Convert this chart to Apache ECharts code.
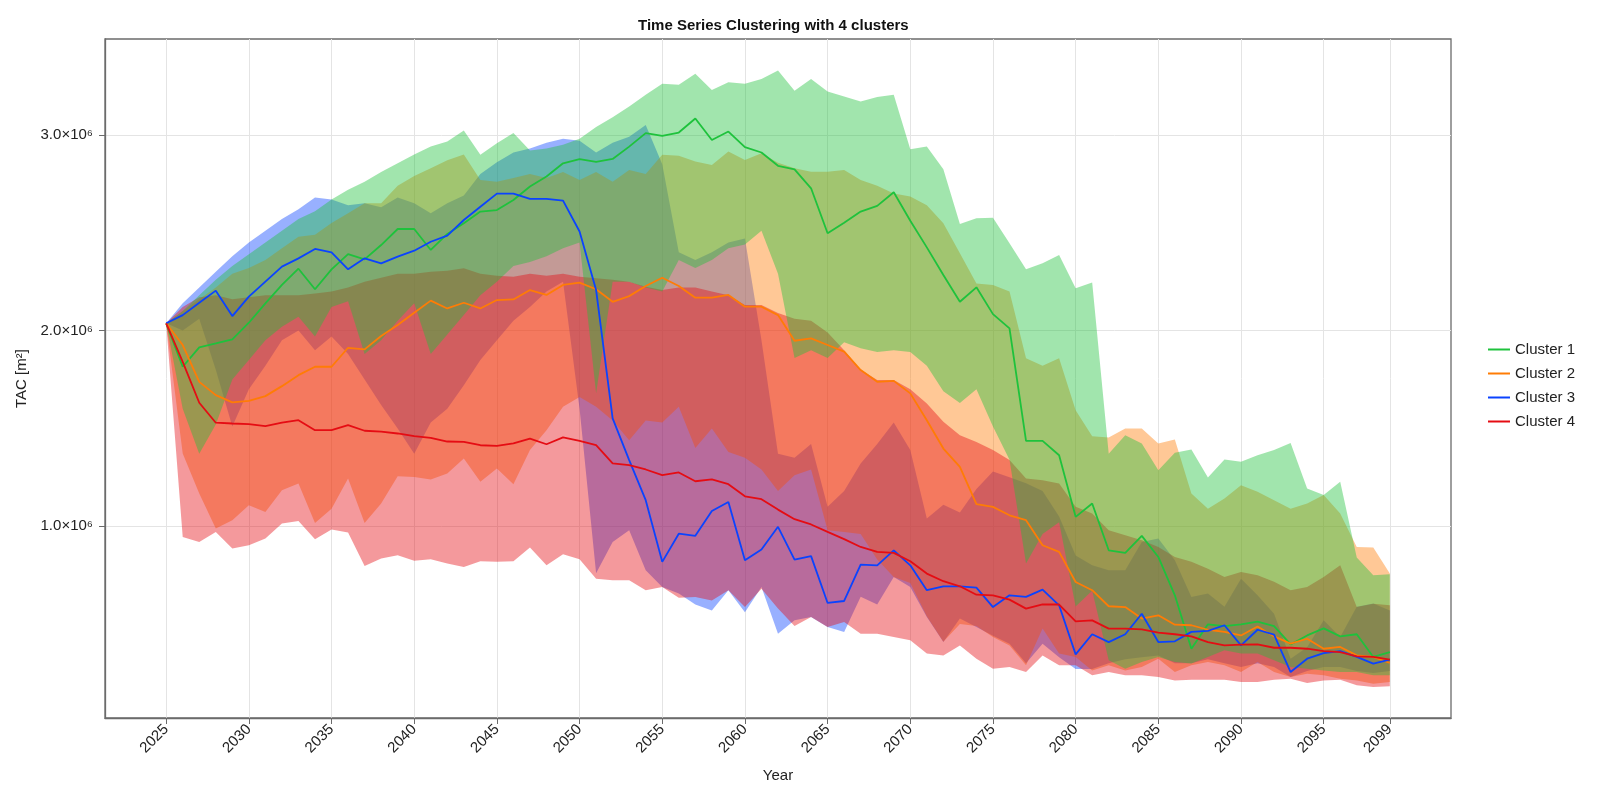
<!DOCTYPE html>
<html>

<head>
    <meta charset="utf-8">
    <title>Time Series Clustering with 4 clusters</title>
    <script src="https://cdn.jsdelivr.net/npm/echarts@6/dist/echarts.min.js"></script>
    <style>
        html, body { margin: 0; padding: 0; background: #fff; }
        #chart { width: 1600px; height: 800px; }
    </style>
</head>

<body>
    <div id="chart"></div>

    <script>
        // years on the x axis
        const years = [];
        for (let y = 2025; y <= 2099; y++) years.push(y);

        const xTicks = [2025, 2030, 2035, 2040, 2045, 2050, 2055, 2060, 2065, 2070, 2075, 2080, 2085, 2090, 2095, 2099];
        const yTicks = [1, 2, 3];
        const clusterNames = ['Cluster 1', 'Cluster 2', 'Cluster 3', 'Cluster 4'];

        // all values in units of 10^6 m²
        // Cluster 1
        const mean1 = [
            2.037, 1.815, 1.914, 1.934, 1.955, 2.04, 2.139, 2.233, 2.316, 2.211,
            2.313, 2.391, 2.364, 2.437, 2.519, 2.519, 2.412, 2.494, 2.548, 2.608,
            2.616, 2.667, 2.736, 2.787, 2.855, 2.876, 2.862, 2.877, 2.94, 3.009,
            2.995, 3.012, 3.084, 2.974, 3.017, 2.937, 2.91, 2.842, 2.824, 2.727,
            2.497, 2.551, 2.608, 2.637, 2.707, 2.561, 2.425, 2.284, 2.147, 2.221,
            2.084, 2.011, 1.436, 1.436, 1.363, 1.048, 1.116, 0.877, 0.864, 0.951,
            0.843, 0.647, 0.374, 0.499, 0.49, 0.499, 0.512, 0.49, 0.396, 0.442,
            0.478, 0.437, 0.448, 0.332, 0.357
        ];
        const lower1 = [
            2.037, 1.60, 1.37, 1.52, 1.75, 1.85, 1.95, 2.02, 2.07, 1.97,
            2.12, 2.15, 1.88, 1.95, 2.05, 2.14, 1.88, 1.98, 2.08, 2.18,
            2.25, 2.33, 2.35, 2.38, 2.42, 2.45, 1.68, 2.25, 2.25, 2.22,
            2.20, 2.36, 2.32, 2.36, 2.42, 2.44, 2.51, 2.29, 1.86, 1.90,
            1.86, 1.94, 1.91, 1.89, 1.90, 1.89, 1.82, 1.69, 1.63, 1.70,
            1.51, 1.34, 0.81, 0.96, 1.02, 0.59, 0.67, 0.315, 0.272, 0.306,
            0.332, 0.306, 0.298, 0.332, 0.366, 0.349, 0.349, 0.315, 0.28, 0.272,
            0.263, 0.255, 0.255, 0.238, 0.238
        ];
        const upper1 = [
            2.037, 2.10, 2.18, 2.26, 2.33, 2.39, 2.45, 2.51, 2.57, 2.61,
            2.67, 2.72, 2.76, 2.81, 2.855, 2.90, 2.94, 2.966, 3.022, 2.898,
            2.957, 3.009, 2.92, 2.93, 2.95, 2.98, 3.04, 3.09, 3.145, 3.205,
            3.261, 3.256, 3.312, 3.23, 3.269, 3.261, 3.285, 3.329, 3.226, 3.285,
            3.222, 3.196, 3.17, 3.193, 3.205, 2.927, 2.94, 2.824, 2.545, 2.574,
            2.577, 2.446, 2.313, 2.344, 2.386, 2.216, 2.245, 1.37, 1.465, 1.423,
            1.286, 1.375, 1.392, 1.249, 1.341, 1.329, 1.363, 1.389, 1.426, 1.193,
            1.159, 1.227, 0.84, 0.75, 0.755
        ];

        // Cluster 2
        const mean2 = [
            2.037, 1.926, 1.738, 1.67, 1.633, 1.641, 1.665, 1.716, 1.772, 1.815,
            1.815, 1.912, 1.904, 1.972, 2.028, 2.091, 2.153, 2.113, 2.142, 2.113,
            2.156, 2.159, 2.207, 2.182, 2.233, 2.245, 2.211, 2.147, 2.176, 2.228,
            2.27, 2.228, 2.168, 2.168, 2.182, 2.122, 2.122, 2.079, 1.948, 1.96,
            1.926, 1.892, 1.798, 1.738, 1.743, 1.679, 1.542, 1.397, 1.303, 1.113,
            1.099, 1.056, 1.031, 0.903, 0.869, 0.715, 0.673, 0.591, 0.587, 0.528,
            0.545, 0.497, 0.494, 0.471, 0.46, 0.442, 0.488, 0.437, 0.40, 0.425,
            0.374, 0.383, 0.34, 0.332, 0.301
        ];
        const lower2 = [
            2.037, 1.372, 1.167, 0.988, 1.031, 1.107, 1.073, 1.184, 1.218, 1.017,
            1.09, 1.244, 1.017, 1.116, 1.256, 1.252, 1.239, 1.269, 1.346, 1.227,
            1.295, 1.215, 1.389, 1.491, 1.61, 1.66, 1.61, 1.54, 1.44, 1.54,
            1.53, 1.61, 1.40, 1.50, 1.38, 1.35, 1.29, 1.18, 1.26, 1.29,
            0.98, 0.97, 0.96, 0.83, 0.74, 0.71, 0.54, 0.41, 0.50, 0.49,
            0.434, 0.391, 0.289, 0.477, 0.349, 0.332, 0.263, 0.289, 0.263, 0.28,
            0.323, 0.255, 0.289, 0.306, 0.289, 0.255, 0.306, 0.255, 0.23, 0.246,
            0.238, 0.221, 0.212, 0.195, 0.204
        ];
        const upper2 = [
            2.037, 2.10, 2.16, 2.22, 2.29, 2.32, 2.36, 2.42, 2.48, 2.49,
            2.55, 2.60, 2.65, 2.65, 2.74, 2.79, 2.83, 2.87, 2.90, 2.77,
            2.76, 2.78, 2.80, 2.78, 2.81, 2.77, 2.81, 2.76, 2.82, 2.80,
            2.898, 2.893, 2.864, 2.846, 2.915, 2.872, 2.906, 2.858, 2.83, 2.812,
            2.812, 2.82, 2.77, 2.74, 2.70, 2.685, 2.64, 2.548, 2.395, 2.24,
            2.233, 2.20, 1.858, 1.82, 1.858, 1.593, 1.46, 1.454, 1.50, 1.50,
            1.423, 1.443, 1.167, 1.09, 1.142, 1.21, 1.176, 1.133, 1.09, 1.116,
            1.16, 1.065, 0.894, 0.891, 0.758
        ];

        // Cluster 3
        const mean3 = [
            2.037, 2.079, 2.142, 2.204, 2.074, 2.173, 2.25, 2.327, 2.369, 2.417,
            2.40, 2.313, 2.369, 2.343, 2.378, 2.408, 2.454, 2.485, 2.565, 2.633,
            2.70, 2.70, 2.673, 2.673, 2.664, 2.506, 2.207, 1.551, 1.338, 1.133,
            0.818, 0.962, 0.951, 1.078, 1.124, 0.826, 0.881, 0.997, 0.829, 0.847,
            0.608, 0.618, 0.804, 0.80, 0.877, 0.80, 0.673, 0.693, 0.693, 0.686,
            0.587, 0.647, 0.639, 0.676, 0.596, 0.345, 0.448, 0.408, 0.448, 0.553,
            0.408, 0.412, 0.46, 0.465, 0.494, 0.391, 0.471, 0.446, 0.255, 0.323,
            0.352, 0.362, 0.332, 0.298, 0.318
        ];
        const lower3 = [
            2.037, 2.0, 2.06, 1.80, 1.51, 1.70, 1.82, 1.95, 2.0, 1.90,
            1.97, 1.88, 1.75, 1.62, 1.50, 1.37, 1.53, 1.60, 1.72, 1.85,
            1.95, 2.05, 2.12, 2.2, 2.25, 1.6, 0.76, 0.92, 0.98, 0.775,
            0.69, 0.656, 0.60, 0.57, 0.673, 0.56, 0.69, 0.45, 0.52, 0.536,
            0.485, 0.46, 0.64, 0.60, 0.74, 0.69, 0.536, 0.408, 0.528, 0.485,
            0.44, 0.40, 0.30, 0.40, 0.33, 0.27, 0.27, 0.30, 0.32, 0.33,
            0.34, 0.30, 0.30, 0.32, 0.30, 0.28, 0.30, 0.28, 0.23, 0.26,
            0.28, 0.28, 0.26, 0.25, 0.26
        ];
        const upper3 = [
            2.037, 2.14, 2.22, 2.30, 2.38, 2.45, 2.51, 2.57, 2.62, 2.68,
            2.67, 2.64, 2.65, 2.63, 2.68, 2.65, 2.60, 2.65, 2.69, 2.80,
            2.86, 2.91, 2.93, 2.96, 2.98, 2.97, 2.91, 2.96, 2.99, 3.05,
            2.85, 2.40, 2.36, 2.40, 2.45, 2.47, 1.95, 1.37, 1.35, 1.42,
            1.10, 1.18, 1.32, 1.42, 1.53, 1.39, 1.04, 1.11, 1.07, 1.19,
            1.28, 1.25, 1.22, 1.18, 1.05, 0.85, 0.80, 0.775, 0.775, 0.92,
            0.937, 0.826, 0.639, 0.656, 0.588, 0.732, 0.647, 0.553, 0.323, 0.382,
            0.519, 0.434, 0.588, 0.605, 0.57
        ];

        // Cluster 4
        const mean4 = [
            2.037, 1.84, 1.631, 1.529, 1.525, 1.522, 1.512, 1.529, 1.542, 1.491,
            1.491, 1.517, 1.488, 1.483, 1.474, 1.46, 1.452, 1.433, 1.431, 1.414,
            1.411, 1.423, 1.448, 1.419, 1.454, 1.436, 1.414, 1.321, 1.312, 1.29,
            1.261, 1.275, 1.23, 1.239, 1.215, 1.153, 1.138, 1.085, 1.036, 1.009,
            0.971, 0.934, 0.894, 0.869, 0.864, 0.821, 0.758, 0.719, 0.693, 0.65,
            0.647, 0.625, 0.579, 0.601, 0.60, 0.514, 0.519, 0.477, 0.477, 0.473,
            0.456, 0.448, 0.437, 0.408, 0.391, 0.395, 0.396, 0.379, 0.379, 0.374,
            0.362, 0.357, 0.335, 0.332, 0.318
        ];
        const lower4 = [
            2.037, 0.945, 0.92, 0.97, 0.886, 0.903, 0.937, 1.014, 1.027, 0.934,
            0.983, 0.968, 0.797, 0.835, 0.852, 0.823, 0.831, 0.809, 0.792, 0.821,
            0.818, 0.821, 0.891, 0.80, 0.857, 0.831, 0.732, 0.724, 0.724, 0.673,
            0.69, 0.635, 0.639, 0.62, 0.673, 0.587, 0.68, 0.579, 0.49, 0.536,
            0.485, 0.51, 0.45, 0.45, 0.434, 0.417, 0.349, 0.34, 0.391, 0.323,
            0.272, 0.28, 0.255, 0.34, 0.289, 0.289, 0.238, 0.255, 0.238, 0.238,
            0.23, 0.212, 0.216, 0.216, 0.216, 0.204, 0.204, 0.216, 0.221, 0.199,
            0.212, 0.216, 0.187, 0.178, 0.182
        ];
        const upper4 = [
            2.037, 2.12, 2.17, 2.18, 2.16, 2.17, 2.18, 2.18, 2.18, 2.19,
            2.20, 2.22, 2.25, 2.27, 2.29, 2.29, 2.30, 2.306, 2.318, 2.29,
            2.28, 2.275, 2.29, 2.28, 2.29, 2.275, 2.267, 2.26, 2.25, 2.224,
            2.207, 2.22, 2.22, 2.20, 2.18, 2.13, 2.13, 2.09, 2.06, 2.05,
            1.99, 1.90, 1.80, 1.747, 1.747, 1.70, 1.627, 1.534, 1.465, 1.431,
            1.389, 1.338, 1.244, 1.235, 1.218, 1.099, 1.065, 0.98, 0.954, 0.928,
            0.894, 0.843, 0.818, 0.783, 0.741, 0.766, 0.749, 0.716, 0.673, 0.69,
            0.74, 0.80, 0.587, 0.604, 0.596
        ];

        const colors = ['#1ec23c', '#ff7c05', '#0a43ff', '#e50c13'];
        const bandFills = [
            'rgba(30,194,60,0.42)',
            'rgba(255,124,5,0.42)',
            'rgba(10,67,255,0.42)',
            'rgba(229,12,19,0.42)'
        ];
        const means = [mean1, mean2, mean3, mean4];
        const lowers = [lower1, lower2, lower3, lower4];
        const uppers = [upper1, upper2, upper3, upper4];

        const font = '"Liberation Sans", "DejaVu Sans", sans-serif';
        const axisGray = '#6b6b6b';

        // one filled polygon per cluster between its lower and upper curve
        function bandSeries(k) {
            const lower = lowers[k], upper = uppers[k];
            return {
                type: 'custom',
                name: clusterNames[k] + ' range',
                silent: true,
                z: 2,
                data: years.map((y, i) => [y, lower[i], upper[i]]),
                encode: { x: 0, y: [1, 2] },
                renderItem: function (params, api) {
                    if (params.dataIndex !== 0) return null;
                    const top = years.map((y, i) => api.coord([y, upper[i]]));
                    const bottom = years.map((y, i) => api.coord([y, lower[i]])).reverse();
                    return {
                        type: 'polygon',
                        shape: { points: top.concat(bottom) },
                        style: { fill: bandFills[k] }
                    };
                }
            };
        }

        function lineSeries(k) {
            return {
                type: 'line',
                name: clusterNames[k],
                data: years.map((y, i) => [y, means[k][i]]),
                symbol: 'none',
                showSymbol: false,
                z: 5,
                color: colors[k],
                lineStyle: { width: 1.8, color: colors[k] }
            };
        }

        // draw order of the bands as in the picture: 3, 2, 4, 1
        const series = [bandSeries(2), bandSeries(1), bandSeries(3), bandSeries(0)]
            .concat([0, 1, 2, 3].map(lineSeries));

        const chart = echarts.init(document.getElementById('chart'));

        const option = {
            animation: false,
            backgroundColor: '#ffffff',
            textStyle: { fontFamily: font },
            title: {
                text: 'Time Series Clustering with 4 clusters',
                left: 633,
                top: 13,
                textStyle: { fontFamily: font, fontSize: 15, fontWeight: 'bold', color: '#111' }
            },
            legend: {
                data: clusterNames,
                orient: 'vertical',
                left: 1483,
                top: 337,
                icon: 'path://M0,0H44V4H0Z',
                itemWidth: 22,
                itemHeight: 14,
                itemGap: 9,
                textStyle: { fontFamily: font, fontSize: 15, color: '#222' }
            },
            grid: {
                left: 105,
                right: 149,
                top: 39,
                bottom: 82,
                show: true,
                borderColor: axisGray,
                borderWidth: 1.3
            },
            xAxis: {
                type: 'value',
                min: 2021.3,
                max: 2102.7,
                name: 'Year',
                nameLocation: 'middle',
                nameGap: 50,
                nameTextStyle: { fontFamily: font, fontSize: 15, color: '#222' },
                axisLine: { show: true, lineStyle: { color: axisGray, width: 1.3 } },
                axisTick: { show: true, customValues: xTicks, length: 6, lineStyle: { color: axisGray } },
                axisLabel: {
                    customValues: xTicks,
                    rotate: 45,
                    margin: 9,
                    fontSize: 15,
                    color: '#222',
                    formatter: v => String(v)
                },
                splitLine: { show: true, lineStyle: { color: '#e4e4e4', width: 1 } }
            },
            yAxis: {
                type: 'value',
                min: 0.02,
                max: 3.49,
                name: 'TAC [m²]',
                nameLocation: 'middle',
                nameRotate: 90,
                nameGap: 62,
                nameTextStyle: { fontFamily: font, fontSize: 15, color: '#222' },
                axisLine: { show: true, lineStyle: { color: axisGray, width: 1.3 } },
                axisTick: { show: true, customValues: yTicks, length: 6, lineStyle: { color: axisGray } },
                axisLabel: {
                    customValues: yTicks,
                    margin: 12,
                    fontSize: 15,
                    color: '#222',
                    formatter: v => v.toFixed(1) + '×10⁶'
                },
                splitLine: { show: true, lineStyle: { color: '#e4e4e4', width: 1 } }
            },
            series: series
        };

        chart.setOption(option);
    </script>
</body>

</html>
